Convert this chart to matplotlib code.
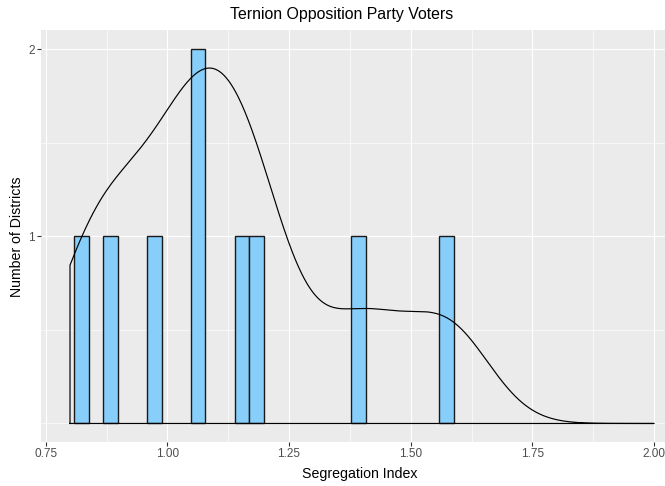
import numpy as np
import matplotlib
matplotlib.use("Agg")
import matplotlib.pyplot as plt

# ---- data ----
seg_index = [0.825, 0.89, 0.985, 1.065, 1.075, 1.16, 1.19, 1.395, 1.575]
bin_start = 0.808
bin_width = 0.03
density_range = [0.8, 2.0]
x_ticks = [0.75, 1.00, 1.25, 1.50, 1.75, 2.00]
x_tick_labels = ["0.75", "1.00", "1.25", "1.50", "1.75", "2.00"]
y_ticks = [1, 2]
y_tick_labels = ["1", "2"]
title = "Ternion Opposition Party Voters"
xlabel = "Segregation Index"
ylabel = "Number of Districts"

plt.rcParams['font.family'] = ['Liberation Sans', 'DejaVu Sans']

W, H = 665, 486
fig = plt.figure(figsize=(W / 100, H / 100), dpi=100)

# panel in pixels
px_left, px_right = 40.8, 683.3
px_top, px_bottom = 30.3, 442.2
ax = fig.add_axes([px_left / W, 1 - px_bottom / H,
                   (px_right - px_left) / W, (px_bottom - px_top) / H])
ax.set_facecolor("#EBEBEB")
ax.set_xlim(0.74, 2.06)
ax.set_ylim(-0.1, 2.1)

# grid
for v in [0.875, 1.125, 1.375, 1.625, 1.875]:
    ax.axvline(v, color="white", lw=0.45, zorder=0.5)
for v in x_ticks:
    ax.axvline(v, color="white", lw=0.8, zorder=0.6)
for v in [0, 0.5, 1.5]:
    ax.axhline(v, color="white", lw=0.45, zorder=0.5)
for v in y_ticks:
    ax.axhline(v, color="white", lw=0.8, zorder=0.6)

# histogram
data = np.array(seg_index)
nb = int(np.ceil((data.max() - bin_start) / bin_width)) + 1
edges = bin_start + bin_width * np.arange(nb + 1)
counts, _ = np.histogram(data, bins=edges)
for c, e in zip(counts, edges[:-1]):
    if c > 0:
        ax.bar(e, c, width=bin_width, align="edge", color="#87CEFA",
               edgecolor="#1a1a1a", linewidth=1.0, zorder=2)

# density (gaussian kde, R's bw.nrd0)
n = len(data)
sd = data.std(ddof=1)
q1, q3 = np.percentile(data, [25, 75])
bw = 0.9 * min(sd, (q3 - q1) / 1.34) * n ** (-0.2)
gx = np.linspace(density_range[0], density_range[1], 512)
gy = np.exp(-0.5 * ((gx[:, None] - data[None, :]) / bw) ** 2).sum(axis=1) / (n * bw * np.sqrt(2 * np.pi))
px = np.concatenate([[gx[0]], gx, [gx[-1], gx[0]]])
py = np.concatenate([[0], gy, [0, 0]])
ax.plot(px, py, color="black", lw=0.85, zorder=3, solid_joinstyle="round")

# axes styling
for s in ax.spines.values():
    s.set_visible(False)
ax.set_xticks(x_ticks)
ax.set_xticklabels(x_tick_labels)
ax.set_yticks(y_ticks)
ax.set_yticklabels(y_tick_labels)
ax.tick_params(axis="both", colors="#333333", length=2.6, width=0.8,
               labelsize=8.5, labelcolor="#4D4D4D", pad=1.8)

fig.text(342 / W, 1 - 15 / H, title, ha="center", va="center",
         fontsize=11.4, color="black")
fig.text(360 / W, 1 - 474 / H, xlabel, ha="center", va="center",
         fontsize=10.2, color="black")
fig.text(17 / W, 1 - 237 / H, ylabel, ha="center", va="center",
         rotation=90, fontsize=10.2, color="black")

fig.savefig("out.png", dpi=100)
